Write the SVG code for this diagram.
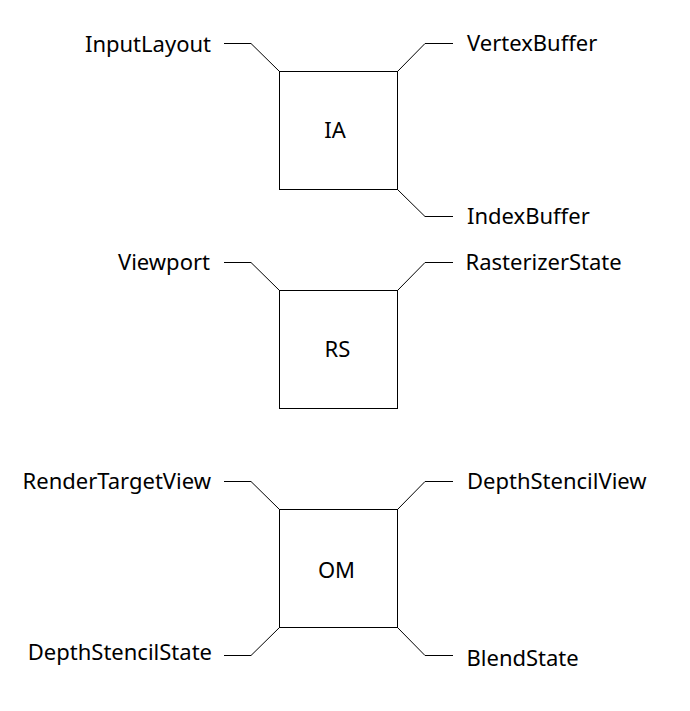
<svg xmlns="http://www.w3.org/2000/svg" width="690" height="711" viewBox="0 0 690 711">
<style>
.box{fill:#fff;stroke:#000;stroke-width:1}
.ln{fill:none;stroke:#000;stroke-width:1}
text{font-family:"Noto Sans","Open Sans","Liberation Sans",sans-serif;font-size:22px;fill:#000}
.l{text-anchor:end}
.c{text-anchor:middle}
</style>
<rect width="690" height="711" fill="#fff"/>
<g id="connectors">
<path class="ln" d="M224,43.5 H251 L279.5,71.5"/>
<path class="ln" d="M397.5,71.5 L425,43.5 H453"/>
<path class="ln" d="M397.5,189.5 L425,216.5 H453"/>
<path class="ln" d="M224,262.5 H251 L279.5,290.5"/>
<path class="ln" d="M397.5,290.5 L425,262.5 H453"/>
<path class="ln" d="M224,481.5 H251 L279.5,509.5"/>
<path class="ln" d="M397.5,509.5 L425,481.5 H453"/>
<path class="ln" d="M224,655.5 H251 L279.5,627.5"/>
<path class="ln" d="M397.5,627.5 L425,655.5 H453"/>
</g>
<g id="IA">
<rect class="box" x="279.5" y="71.5" width="118" height="118"/>
<text class="c" x="335" y="138">IA</text>
</g>
<g id="RS">
<rect class="box" x="279.5" y="290.5" width="118" height="118"/>
<text class="c" x="337.5" y="357">RS</text>
</g>
<g id="OM">
<rect class="box" x="279.5" y="509.5" width="118" height="118"/>
<text class="c" x="336.5" y="578">OM</text>
</g>
<g id="InputLayout"><text class="l" x="211" y="51.5">InputLayout</text></g>
<g id="VertexBuffer"><text x="467" y="51">VertexBuffer</text></g>
<g id="IndexBuffer"><text x="467" y="224">IndexBuffer</text></g>
<g id="Viewport"><text class="l" x="210" y="270">Viewport</text></g>
<g id="RasterizerState"><text x="465.5" y="270">RasterizerState</text></g>
<g id="RenderTargetView"><text class="l" x="211" y="489">RenderTargetView</text></g>
<g id="DepthStencilView"><text x="467" y="489">DepthStencilView</text></g>
<g id="DepthStencilState"><text class="l" x="212" y="659.5">DepthStencilState</text></g>
<g id="BlendState"><text x="466.5" y="665.5">BlendState</text></g>
</svg>
